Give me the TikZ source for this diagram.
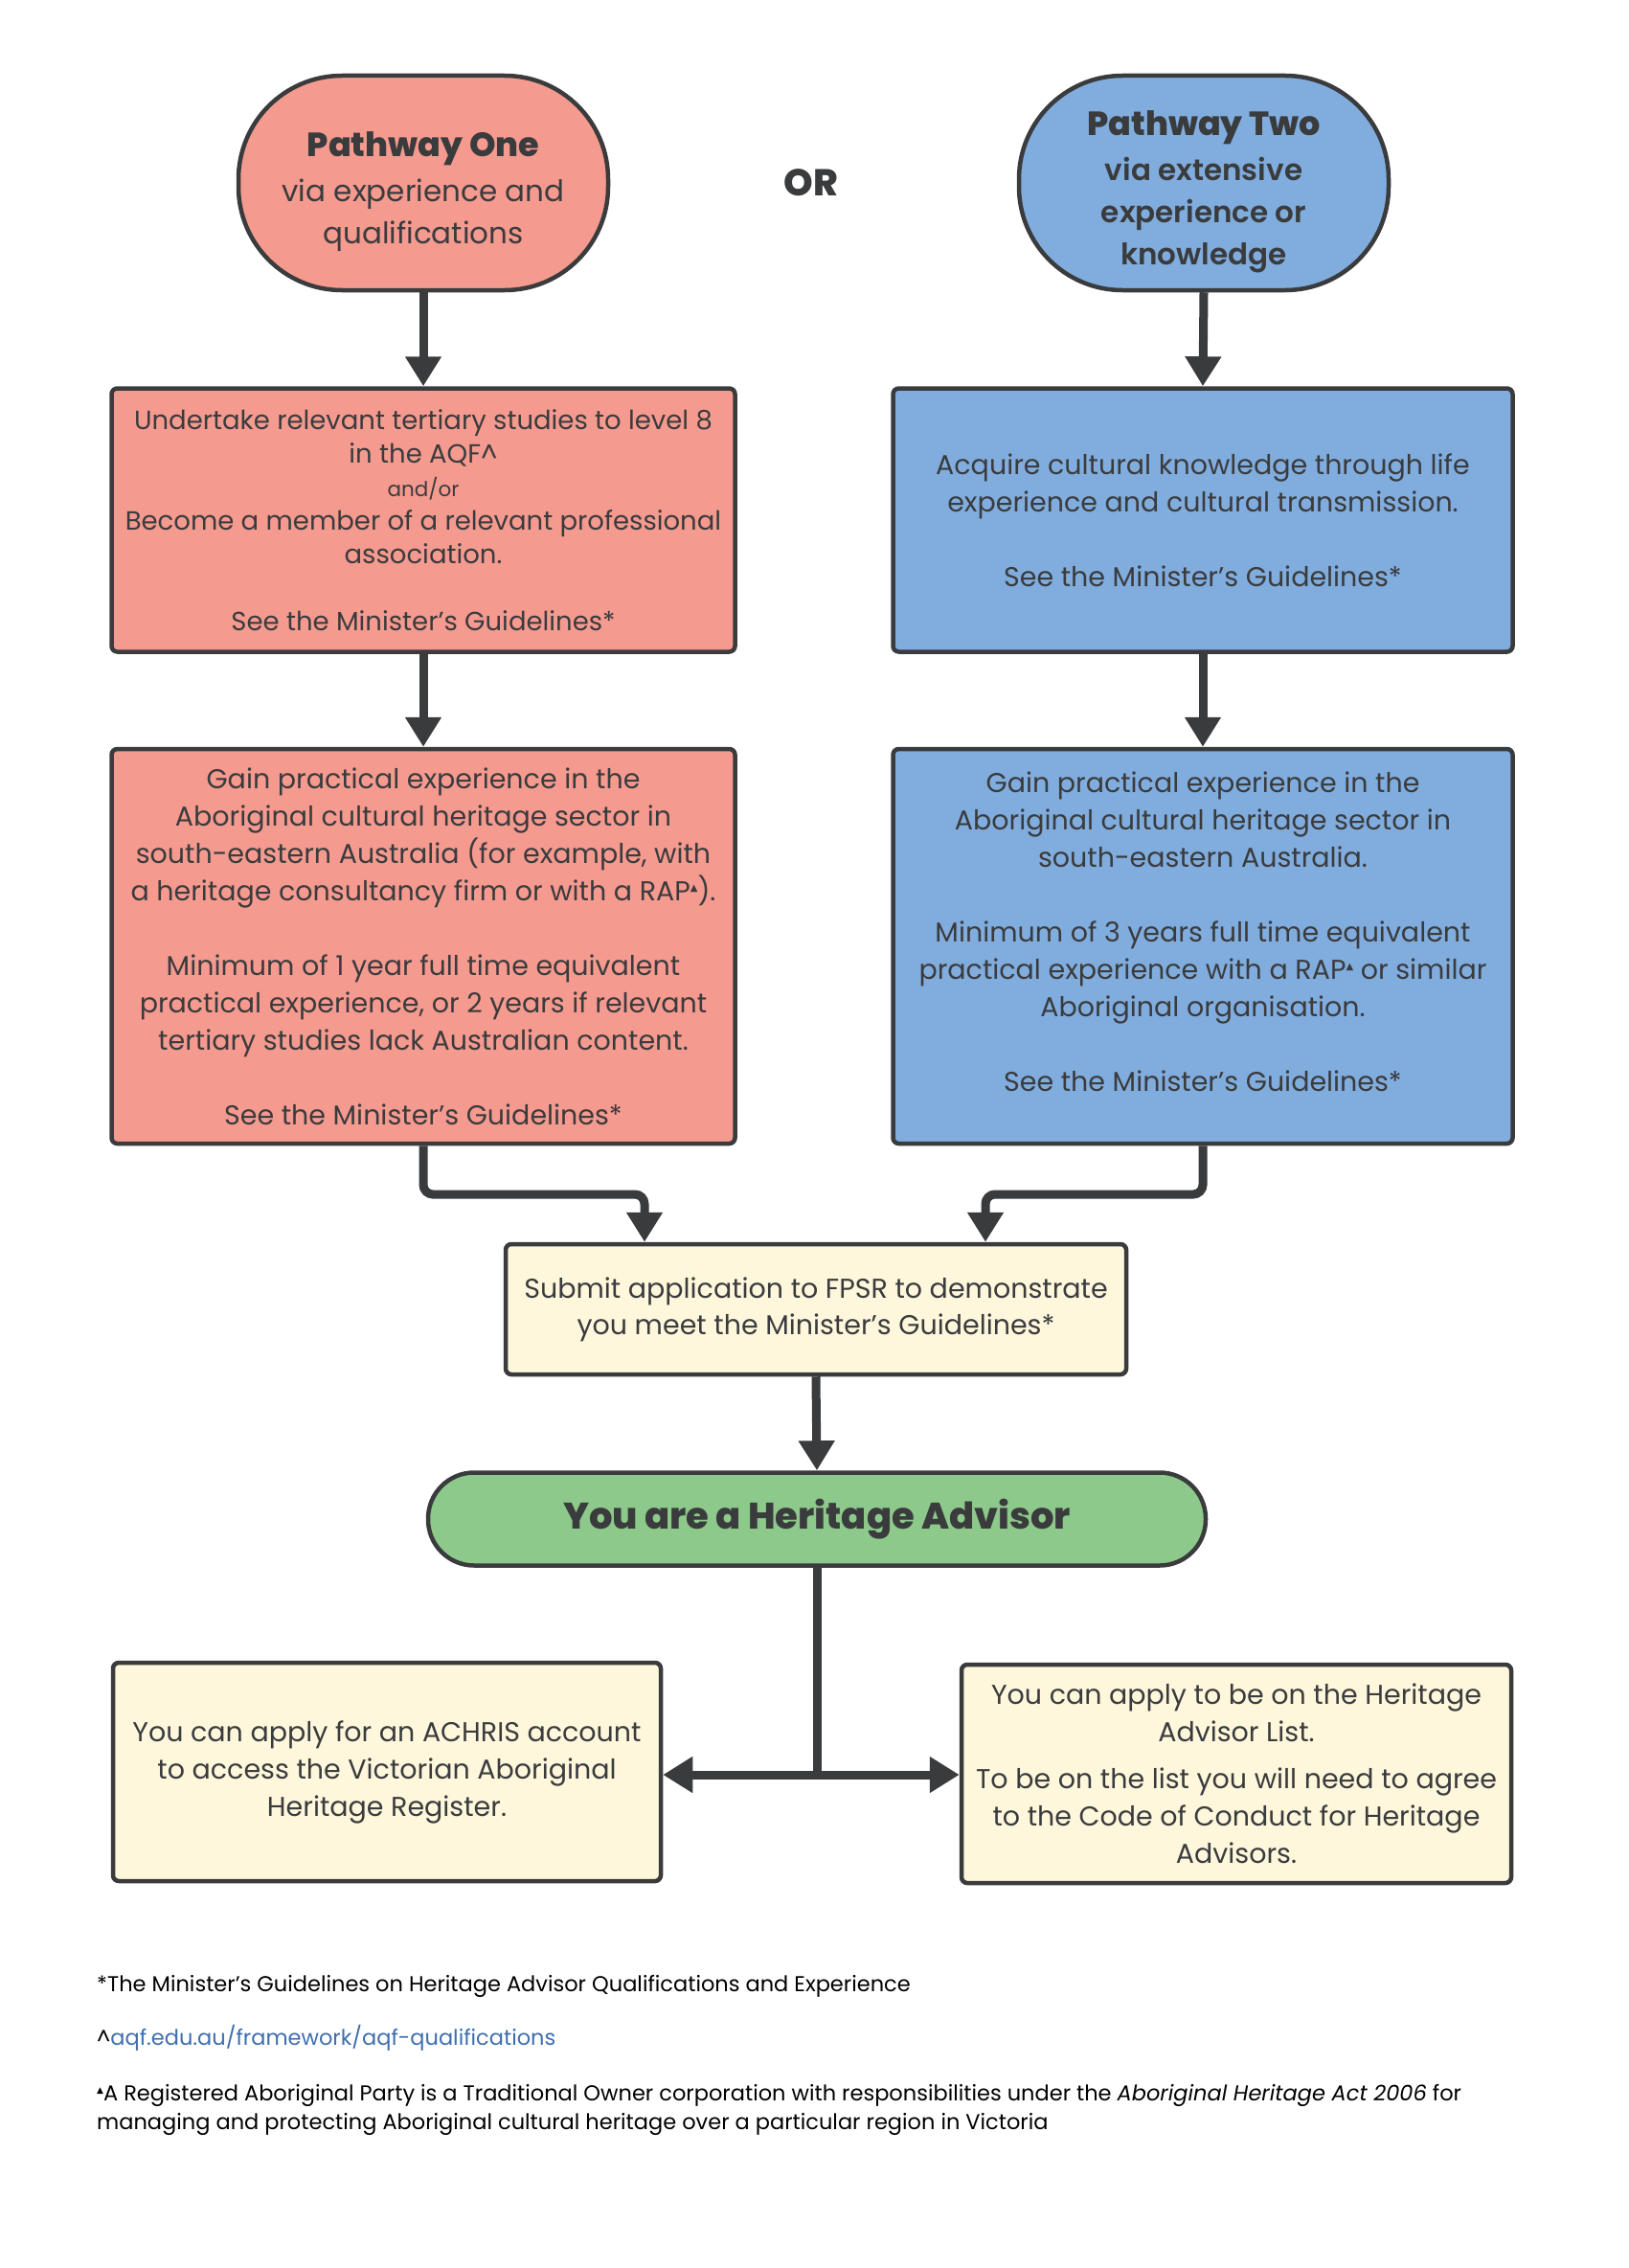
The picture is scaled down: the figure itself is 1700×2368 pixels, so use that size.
\documentclass[tikz,border=0pt]{standalone}
\usepackage{fontspec}
\setmainfont{Poppins}
\newfontfamily\djv{DejaVu Sans}
\newfontfamily\popsemi{Poppins SemiBold}
\newfontfamily\popxb{Poppins ExtraBold}
\usetikzlibrary{arrows.meta}
\definecolor{cPink}{HTML}{F59A8F}
\definecolor{cBlue}{HTML}{80ADDE}
\definecolor{cCream}{HTML}{FEF7DC}
\definecolor{cGreen}{HTML}{8DC98A}
\definecolor{cDark}{HTML}{3A3B3D}
\definecolor{cLink}{HTML}{3F6FB0}
\newcommand\rapmark{\raisebox{10pt}{\djv\fontsize{10}{10}\selectfont ▲}}
\begin{document}
\begin{tikzpicture}[x=1pt,y=-1pt,
  box/.style={draw=cDark, line width=4.5pt, rounded corners=6pt, align=center,
    inner sep=0pt, text=cDark, font=\fontsize{28.5}{39}\selectfont},
  pathbox/.style={box, rounded corners=108pt, minimum width=386pt, minimum height=224pt,
    font=\fontsize{31}{44}\selectfont},
  conn/.style={draw=cDark, line width=9pt, -{Triangle[width=36pt,length=31pt]}},
  plain/.style={draw=cDark, line width=9pt},
  foot/.style={anchor=west, inner sep=0pt, text=black, align=left, font=\fontsize{22.5}{30}\selectfont}
]
\useasboundingbox[fill=white] (0,0) rectangle (1700,2368);

\node[pathbox, fill=cPink] (p1) at (442,191)
  {{\popxb\fontsize{35}{44}\selectfont\rule{0pt}{44pt}Pathway One}\\[3pt] via experience and\\ qualifications};
\node[pathbox, fill=cBlue] (p2) at (1257,191)
  {{\popxb\fontsize{35}{44}\selectfont\rule{0pt}{44pt}Pathway Two}\\[3pt] {\popsemi via extensive}\\ {\popsemi experience or}\\ {\popsemi knowledge}};
\node[text=cDark, inner sep=0pt, font=\popxb\fontsize{39}{40}\selectfont] (or) at (847,191) {OR};

\node[box, fill=cPink, minimum width=651pt, minimum height=275pt, font=\fontsize{27.5}{35}\selectfont] (b1) at (442,543)
  {Undertake relevant tertiary studies to level 8\\
   in the AQF\textasciicircum\\
   {\fontsize{21.5}{35}\selectfont and/or}\\
   Become a member of a relevant professional\\
   association.\\[35pt]
   See the Minister's Guidelines*};
\node[box, fill=cBlue, minimum width=647pt, minimum height=275pt] (b2) at (1256,543)
  {Acquire cultural knowledge through life\\
   experience and cultural transmission.\\[39pt]
   See the Minister's Guidelines*};
\node[box, fill=cPink, minimum width=651pt, minimum height=412pt] (b3) at (442,988)
  {Gain practical experience in the\\
   Aboriginal cultural heritage sector in\\
   south-eastern Australia (for example, with\\
   a heritage consultancy firm or with a RAP\rapmark).\\[39pt]
   Minimum of 1 year full time equivalent\\
   practical experience, or 2 years if relevant\\
   tertiary studies lack Australian content.\\[39pt]
   See the Minister's Guidelines*};
\node[box, fill=cBlue, minimum width=647pt, minimum height=412pt] (b4) at (1256,988)
  {Gain practical experience in the\\
   Aboriginal cultural heritage sector in\\
   south-eastern Australia.\\[39pt]
   Minimum of 3 years full time equivalent\\
   practical experience with a RAP\rapmark{} or similar\\
   Aboriginal organisation.\\[39pt]
   See the Minister's Guidelines*\\[-8pt]\mbox{}};
\node[box, fill=cCream, minimum width=648pt, minimum height=136pt, font=\fontsize{28.5}{38}\selectfont] (sub) at (852,1367)
  {Submit application to FPSR to demonstrate\\
   you meet the Minister's Guidelines*};
\node[box, fill=cGreen, rounded corners=48pt, minimum width=812pt, minimum height=97pt,
  font=\popxb\fontsize{38.5}{40}\selectfont] (ha) at (853,1586)
  {You are a Heritage Advisor};
\node[box, fill=cCream, minimum width=572pt, minimum height=228pt] (ach) at (404,1850)
  {You can apply for an ACHRIS account\\
   to access the Victorian Aboriginal\\
   Heritage Register.};
\node[box, fill=cCream, minimum width=574pt, minimum height=228pt] (hal) at (1291,1852)
  {You can apply to be on the Heritage\\
   Advisor List.\\[10pt]
   To be on the list you will need to agree\\
   to the Code of Conduct for Heritage\\
   Advisors.};

% connectors
\draw[conn] (p1.south) -- (b1.north);
\draw[conn] (p2.south) -- (b2.north);
\draw[conn] (b1.south) -- (b3.north);
\draw[conn] (b2.south) -- (b4.north);
\coordinate (jl) at (673,1247);
\coordinate (jr) at (1029,1247);
\draw[conn, rounded corners=10pt] (b3.south) |- (jl) -- (jl |- sub.north);
\draw[conn, rounded corners=10pt] (b4.south) |- (jr) -- (jr |- sub.north);
\draw[conn] (sub.south) -- (ha.north);
\coordinate (jb) at (853,1853);
\draw[plain] (ha.south) -- (jb);
\draw[conn] (jb) -- (ach.east |- jb);
\draw[conn] (jb) -- (hal.west |- jb);

% footnotes
\node[foot] (fn1) at (101,2074) {*The Minister's Guidelines on Heritage Advisor Qualifications and Experience};
\node[foot] (fn2) at (101,2128) {\textasciicircum{\color{cLink}aqf.edu.au/framework/aqf-qualifications}};
\node[foot] (fn3) at (101,2203) {{\djv\fontsize{9}{9}\selectfont\raisebox{8pt}{▲}}A Registered Aboriginal Party is a Traditional Owner corporation with responsibilities under the \textit{Aboriginal Heritage Act 2006} for\\
  managing and protecting Aboriginal cultural heritage over a particular region in Victoria};
\end{tikzpicture}
\end{document}
